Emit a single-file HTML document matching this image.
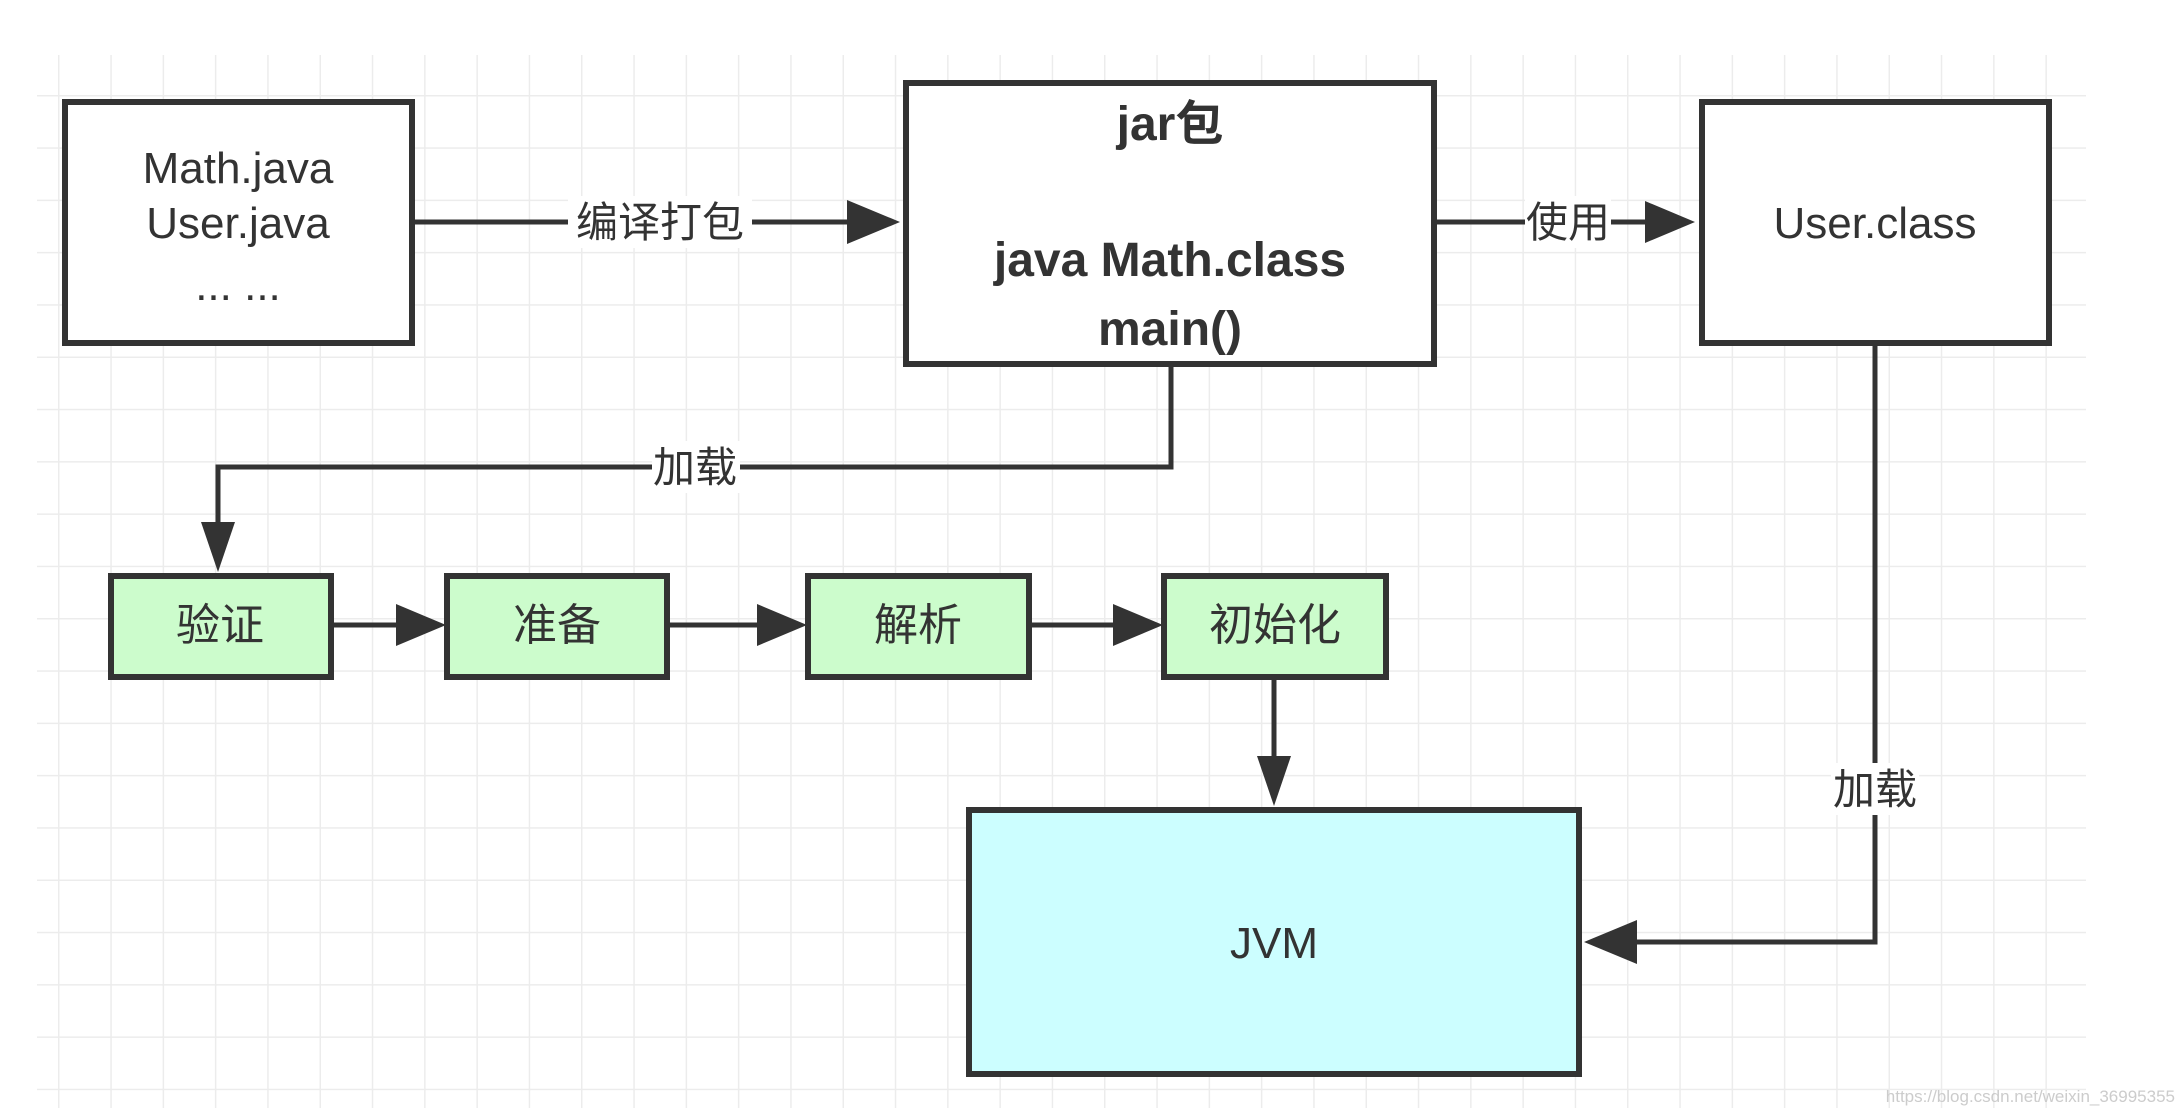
<!DOCTYPE html>
<html><head><meta charset="utf-8"><style>
html,body{margin:0;padding:0;background:#fff;}
svg{display:block;}
text{font-family:"Liberation Sans","Noto Sans CJK SC",sans-serif;fill:#333;}
</style></head><body>
<svg width="2178" height="1114" viewBox="0 0 2178 1114" xmlns="http://www.w3.org/2000/svg">
<defs>
<pattern id="g" x="58" y="95" width="52.3" height="52.3" patternUnits="userSpaceOnUse">
<path d="M0 0V52.3M0 0H52.3" stroke="#ececec" stroke-width="3" fill="none"/>
</pattern>
</defs>
<rect x="37" y="55" width="2049" height="1053" fill="url(#g)"/>
<g stroke="#333" stroke-width="5" fill="none">
<path d="M413 222H850"/>
<path d="M1435 222H1645"/>
<path d="M1171 364V467H218V525"/>
<path d="M331 625H400"/>
<path d="M668 625H760"/>
<path d="M1029 625H1115"/>
<path d="M1274 677V760"/>
<path d="M1875 344V942H1630"/>
</g>
<g fill="#333">
<path d="M900 222L847 200V244Z"/>
<path d="M1695 222L1645 201V243Z"/>
<path d="M218 572L201 522H235Z"/>
<path d="M446 625L396 604V646Z"/>
<path d="M807 625L757 604V646Z"/>
<path d="M1163 625L1113 604V646Z"/>
<path d="M1274 806L1257 756H1291Z"/>
<path d="M1584 942L1637 920V964Z"/>
</g>
<g stroke="#333" stroke-width="6">
<rect x="65" y="102" width="347" height="241" fill="#fff"/>
<rect x="906" y="83" width="528" height="281" fill="#fff"/>
<rect x="1702" y="102" width="347" height="241" fill="#fff"/>
<rect x="111" y="576" width="220" height="101" fill="#ccfccc"/>
<rect x="447" y="576" width="220" height="101" fill="#ccfccc"/>
<rect x="808" y="576" width="221" height="101" fill="#ccfccc"/>
<rect x="1164" y="576" width="222" height="101" fill="#ccfccc"/>
<rect x="969" y="810" width="610" height="264" fill="#ccfeff"/>
</g>
<g text-anchor="middle" font-size="44">
<text x="238" y="183">Math.java</text>
<text x="238" y="238">User.java</text>
<text x="238" y="300">... ...</text>
<text x="1875" y="238">User.class</text>
<text x="1274" y="958">JVM</text>
<text x="220" y="640" font-size="44">验证</text>
<text x="557" y="640" font-size="44">准备</text>
<text x="918" y="640" font-size="44">解析</text>
<text x="1275" y="640" font-size="44">初始化</text>
</g>
<g text-anchor="middle" font-size="48" font-weight="bold">
<text x="1170" y="140">jar包</text>
<text x="1170" y="276">java Math.class</text>
<text x="1170" y="345">main()</text>
</g>
<g font-size="42" text-anchor="middle">
<rect x="568" y="196" width="184" height="52" fill="#fff"/>
<text x="660" y="237">编译打包</text>
<rect x="1525" y="196" width="86" height="52" fill="#fff"/>
<text x="1568" y="237">使用</text>
<rect x="652" y="441" width="88" height="52" fill="#fff"/>
<text x="695" y="482">加载</text>
<rect x="1831" y="763" width="88" height="52" fill="#fff"/>
<text x="1875" y="804">加载</text>
</g>
<text x="2175" y="1102" text-anchor="end" font-size="17" style="fill:#ccc">https://blog.csdn.net/weixin_36995355</text>
</svg>
</body></html>
